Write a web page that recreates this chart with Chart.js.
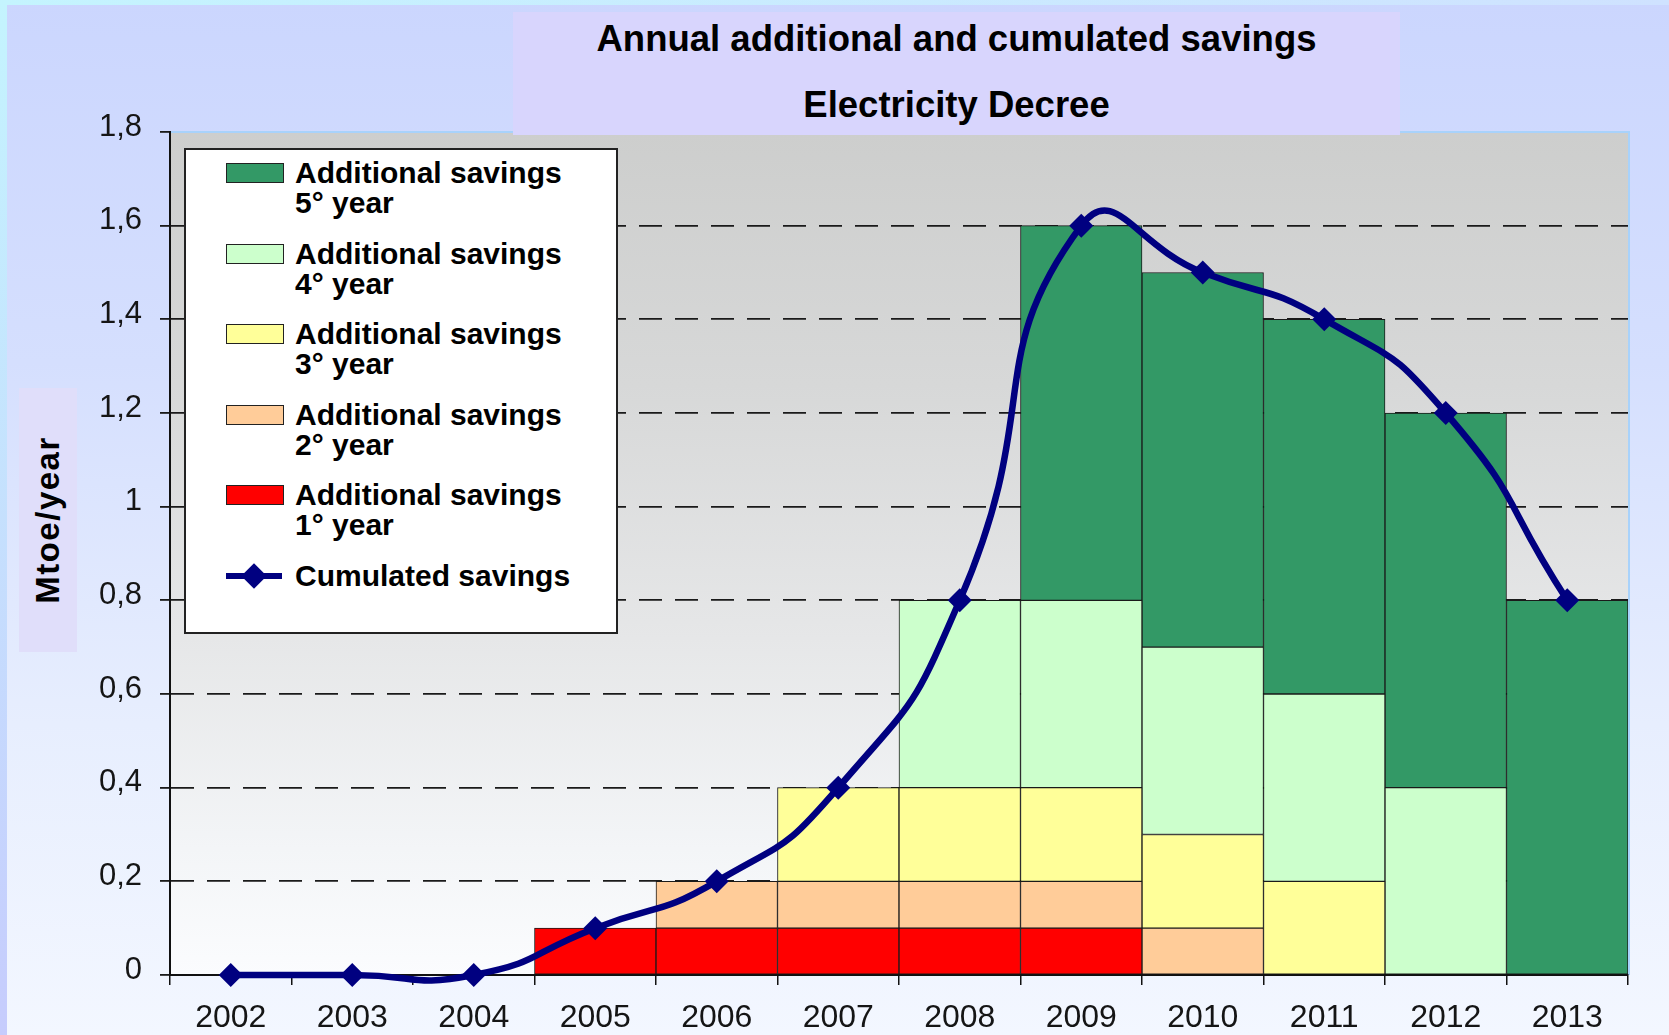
<!DOCTYPE html>
<html>
<head>
<meta charset="utf-8">
<script src="https://cdn.jsdelivr.net/npm/chart.js@4.4.0/dist/chart.umd.min.js"></script>
<style>
    html, body { margin: 0; padding: 0; }
    body {
        width: 1669px; height: 1035px; overflow: hidden; position: relative;
        font-family: 'Liberation Sans', Arial, sans-serif;
        background: linear-gradient(to bottom, #cbd6fe 0%, #d5dffe 35%, #e7eefe 70%, #f3f7ff 100%);
    }
    #edgeTop { position: absolute; left: 0; top: 0; width: 1669px; height: 5px; background: linear-gradient(to right, #c4f4fe, #cfe2ff); }
    #edgeLeft { position: absolute; left: 0; top: 0; width: 7px; height: 1035px; background: linear-gradient(to bottom, #c4f4fe, #c6ccfd); }
    #myChart { position: absolute; left: 0; top: 0; }
    #titleBox {
        position: absolute; left: 513px; top: 12px; width: 887px; height: 123px;
        background: #d8d5fd; font-weight: bold; font-size: 36.5px; color: #000;
    }
    #titleBox div { position: absolute; left: 0; width: 100%; text-align: center; height: 40px; line-height: 40px; }
    #yTitle {
        position: absolute; left: 19px; top: 388px; width: 58px; height: 264px; background: #e0defa;
    }
    #yTitle span {
        position: absolute; left: 50%; top: 50%; transform: translate(-50%, -50%) rotate(-90deg);
        font-weight: bold; font-size: 33px; letter-spacing: 1.5px; white-space: nowrap; color: #000;
    }
    #legendBox {
        position: absolute; left: 184px; top: 148px; width: 434px; height: 486px; box-sizing: border-box;
        background: #fff; border: 2px solid #222;
    }
    .entry { position: absolute; left: 40px; }
    .swatch { position: absolute; left: 0; top: 5px; width: 58px; height: 20px; box-sizing: border-box; border: 1.5px solid #222; }
    .entry .txt { position: absolute; left: 69px; top: 0; white-space: pre; font-weight: bold; font-size: 30px; line-height: 30px; color: #000; }
    .lineMark { position: absolute; left: 0; top: 12px; width: 56px; height: 6px; background: #000080; }
    .diamond { position: absolute; left: 19px; top: 6px; width: 18px; height: 18px; background: #000080; transform: rotate(45deg); }
</style>
</head>
<body>
<div id="edgeTop"></div>
<div id="edgeLeft"></div>
<canvas id="myChart" width="1669" height="1035"></canvas>
<div id="titleBox">
    <div style="top: 7px;">Annual additional and cumulated savings</div>
    <div style="top: 73px;">Electricity Decree</div>
</div>
<div id="yTitle"><span>Mtoe/year</span></div>
<div id="legendBox"></div>
<script>
const years = ['2002', '2003', '2004', '2005', '2006', '2007', '2008', '2009', '2010', '2011', '2012', '2013'];
const seriesNames = [
    'Additional savings\n1° year',
    'Additional savings\n2° year',
    'Additional savings\n3° year',
    'Additional savings\n4° year',
    'Additional savings\n5° year'
];
const seriesColors = ['#ff0000', '#ffcc99', '#ffff99', '#ccffcc', '#339966'];
const savings1 = [null, null, null, 0.1, 0.1, 0.1, 0.1, 0.1, null, null, null, null];
const savings2 = [null, null, null, null, 0.1, 0.1, 0.1, 0.1, 0.1, null, null, null];
const savings3 = [null, null, null, null, null, 0.2, 0.2, 0.2, 0.2, 0.2, null, null];
const savings4 = [null, null, null, null, null, null, 0.4, 0.4, 0.4, 0.4, 0.4, null];
const savings5 = [null, null, null, null, null, null, null, 0.8, 0.8, 0.8, 0.8, 0.8];
const cumulatedName = 'Cumulated savings';
const cumulated = [0, 0, 0, 0.1, 0.2, 0.4, 0.8, 1.6, 1.5, 1.4, 1.2, 0.8];
const yTickLabels = ['0', '0,2', '0,4', '0,6', '0,8', '1', '1,2', '1,4', '1,6', '1,8'];

const allSavings = [savings1, savings2, savings3, savings4, savings5];

// plot area: gray-to-white gradient and the light blue frame
const plotBackground = {
    id: 'plotBackground',
    beforeDraw(chart) {
        const {ctx, chartArea: a} = chart;
        const g = ctx.createLinearGradient(0, a.top, 0, a.bottom);
        g.addColorStop(0, '#cdcecd');
        g.addColorStop(0.3, '#d7d8d8');
        g.addColorStop(0.6, '#e6e7e8');
        g.addColorStop(0.85, '#f3f5f7');
        g.addColorStop(1, '#fbfcfe');
        ctx.save();
        ctx.fillStyle = g;
        ctx.fillRect(a.left, a.top, a.right - a.left, a.bottom - a.top);
        ctx.strokeStyle = '#a8d2fb';
        ctx.lineWidth = 2;
        ctx.beginPath();
        ctx.moveTo(a.left, a.top);
        ctx.lineTo(a.right + 1, a.top);
        ctx.lineTo(a.right + 1, a.bottom);
        ctx.stroke();
        ctx.restore();
    }
};

const datasets = [{
    type: 'line',
    label: cumulatedName,
    data: cumulated,
    borderColor: '#000080',
    backgroundColor: '#000080',
    borderWidth: 6.5,
    tension: 0.55,
    capBezierPoints: false,
    pointStyle: 'rectRot',
    pointRadius: 12,
    pointBorderWidth: 0,
    pointBackgroundColor: '#000080',
    clip: false,
    stack: 'cum',
    order: 0
}];

for (let i = 0; i < allSavings.length; i++) {
    datasets.push({
        type: 'bar',
        label: seriesNames[i],
        data: allSavings[i],
        backgroundColor: seriesColors[i],
        borderColor: '#1a1a1a',
        borderWidth: 1,
        borderSkipped: false,
        barPercentage: 1,
        categoryPercentage: 1,
        stack: 'savings',
        order: 1
    });
}

Chart.defaults.font.family = "'Liberation Sans', Arial, sans-serif";

const ctx = document.getElementById('myChart').getContext('2d');
const myChart = new Chart(ctx, {
    data: {
        labels: years,
        datasets: datasets
    },
    options: {
        responsive: false,
        animation: false,
        layout: { padding: { top: 132, right: 41, left: 0, bottom: 0 } },
        elements: { line: { capBezierPoints: false } },
        plugins: {
            legend: { display: false },
            tooltip: { enabled: false }
        },
        scales: {
            x: {
                stacked: true,
                offset: true,
                afterFit(scale) { scale.height = 60; },
                grid: {
                    display: true,
                    drawOnChartArea: false,
                    offset: true,
                    color: '#111',
                    lineWidth: 1.5,
                    tickLength: 10
                },
                border: { color: '#111', width: 2 },
                ticks: {
                    font: { size: 32 },
                    color: '#151515',
                    padding: 14,
                    maxRotation: 0
                }
            },
            y: {
                stacked: true,
                min: 0,
                max: 1.8,
                afterFit(scale) { scale.width = 170; },
                grid: {
                    color: (c) => (c.tick && c.tick.value > 0.05 && c.tick.value < 1.75) ? '#1a1a1a' : 'rgba(0,0,0,0)',
                    tickColor: '#1a1a1a',
                    lineWidth: 1.8,
                    tickLength: 10
                },
                border: { color: '#111', width: 2, dash: [23, 13] },
                ticks: {
                    stepSize: 0.2,
                    font: { size: 31 },
                    color: '#151515',
                    padding: 18,
                    labelOffset: -5,
                    callback: (v, i) => yTickLabels[i]
                }
            }
        }
    },
    plugins: [plotBackground]
});

// legend drawn as html, newest savings year on top
const legendBox = document.getElementById('legendBox');
const legendItems = [];
for (let i = seriesNames.length - 1; i >= 0; i--) {
    legendItems.push({ name: seriesNames[i], color: seriesColors[i] });
}
legendItems.push({ name: cumulatedName, line: true });

legendItems.forEach((item, i) => {
    const entry = document.createElement('div');
    entry.classList.add('entry');
    entry.style.top = (8 + i * 80.6) + 'px';
    if (item.line) {
        const ln = document.createElement('div');
        ln.classList.add('lineMark');
        const dm = document.createElement('div');
        dm.classList.add('diamond');
        entry.appendChild(ln);
        entry.appendChild(dm);
    } else {
        const sw = document.createElement('div');
        sw.classList.add('swatch');
        sw.style.background = item.color;
        entry.appendChild(sw);
    }
    const txt = document.createElement('div');
    txt.classList.add('txt');
    txt.textContent = item.name;
    entry.appendChild(txt);
    legendBox.appendChild(entry);
});
</script>
</body>
</html>
